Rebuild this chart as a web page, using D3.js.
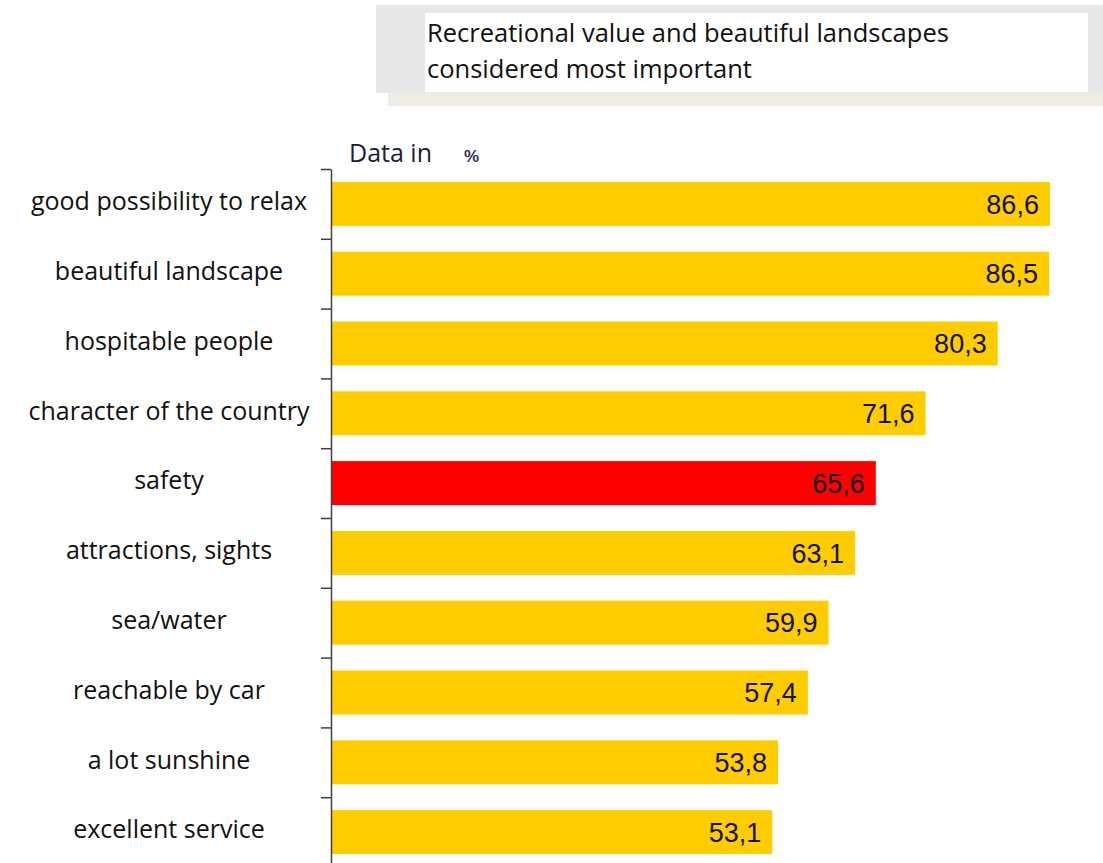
<!DOCTYPE html>
<html>
<head>
<meta charset="utf-8">
<script src="https://cdn.jsdelivr.net/npm/d3@7"></script>
<style>
  html, body { margin: 0; padding: 0; background: #fff; }
  svg { display: block; }
</style>
</head>
<body>
<svg id="chart" width="1103" height="863"></svg>
<script>
// Survey reasons for choosing a holiday destination, share in percent
const categories = [
  "good possibility to relax",
  "beautiful landscape",
  "hospitable people",
  "character of the country",
  "safety",
  "attractions, sights",
  "sea/water",
  "reachable by car",
  "a lot sunshine",
  "excellent service"
];
const values = [86.6, 86.5, 80.3, 71.6, 65.6, 63.1, 59.9, 57.4, 53.8, 53.1];
const highlighted = ["safety"];
const titleLines = [
  "Recreational value and beautiful landscapes",
  "considered most important"
];
const unitLabel = "Data in";
const unitSymbol = "%";

const svg = d3.select("#chart");
const W = 1103, H = 863;

const labelFont = "'Open Sans', Lato, sans-serif";
const valueFont = "'Liberation Sans', Arial, sans-serif";

// Title panel with shadow
svg.append("rect").attr("x", 388).attr("y", 93).attr("width", W - 388).attr("height", 13).attr("fill", "#efece4");
svg.append("rect").attr("x", 376).attr("y", 5).attr("width", W - 376).attr("height", 88).attr("fill", "#e8e8e8");
svg.append("rect").attr("x", 425).attr("y", 13).attr("width", 663).attr("height", 79).attr("fill", "#ffffff");
svg.append("g").selectAll("text").data(titleLines).join("text")
  .attr("x", 427)
  .attr("y", (d, i) => 42 + i * 36)
  .attr("font-family", labelFont)
  .attr("font-size", 25.5)
  .attr("fill", "#111")
  .text(d => d);

// Scales
const x0 = 332;
const x = d3.scaleLinear().domain([0, 100]).range([x0, x0 + 829]);
const plotTop = 169, plotBottom = 867;
const y = d3.scaleBand().domain(categories).range([plotTop, plotBottom])
  .paddingInner(0.37).paddingOuter(0.185);
const yEdges = d3.scaleLinear().domain([0, categories.length]).range([plotTop, plotBottom]);

// Unit caption
svg.append("text").attr("x", 349).attr("y", 162)
  .attr("font-family", labelFont).attr("font-size", 25).attr("fill", "#1c1c3a")
  .text(unitLabel);
svg.append("text").attr("x", 464).attr("y", 162)
  .attr("font-family", valueFont).attr("font-size", 17).attr("font-weight", "bold").attr("fill", "#3a2a5a")
  .text(unitSymbol);

// Bars
const data = categories.map((c, i) => ({ c, v: values[i] }));
svg.append("g").selectAll("rect").data(data).join("rect")
  .attr("x", x(0))
  .attr("y", d => y(d.c))
  .attr("width", d => x(d.v) - x(0))
  .attr("height", y.bandwidth())
  .attr("fill", d => highlighted.includes(d.c) ? "#ff0000" : "#ffcc00");

// Value labels inside bar ends
const locale = d3.formatLocale({ decimal: ",", thousands: ".", grouping: [3], currency: ["", "€"] });
const fmt = locale.format(".1f");
svg.append("g").selectAll("text").data(data).join("text")
  .attr("x", d => x(d.v) - 11)
  .attr("y", d => y(d.c) + y.bandwidth() / 2)
  .attr("dy", "0.36em")
  .attr("text-anchor", "end")
  .attr("font-family", valueFont)
  .attr("font-size", 27)
  .attr("fill", "#111")
  .text(d => fmt(d.v));

// Category axis with ticks at band boundaries
const axis = d3.axisLeft(yEdges).ticks(categories.length).tickSize(10).tickSizeOuter(0).tickFormat("");
const gAxis = svg.append("g").attr("transform", `translate(${x0 - 1},0)`).call(axis);
gAxis.select(".domain").attr("stroke", "#404040").attr("stroke-width", 1.5);
gAxis.selectAll(".tick line").attr("stroke", "#404040").attr("stroke-width", 1.5);

// Category labels, centred in the left margin
svg.append("g").selectAll("text").data(categories).join("text")
  .attr("x", 169)
  .attr("y", d => y(d) + y.bandwidth() / 2)
  .attr("dy", "0.25em")
  .attr("text-anchor", "middle")
  .attr("font-family", labelFont)
  .attr("font-size", 25)
  .attr("fill", "#111")
  .text(d => d);
</script>
</body>
</html>
